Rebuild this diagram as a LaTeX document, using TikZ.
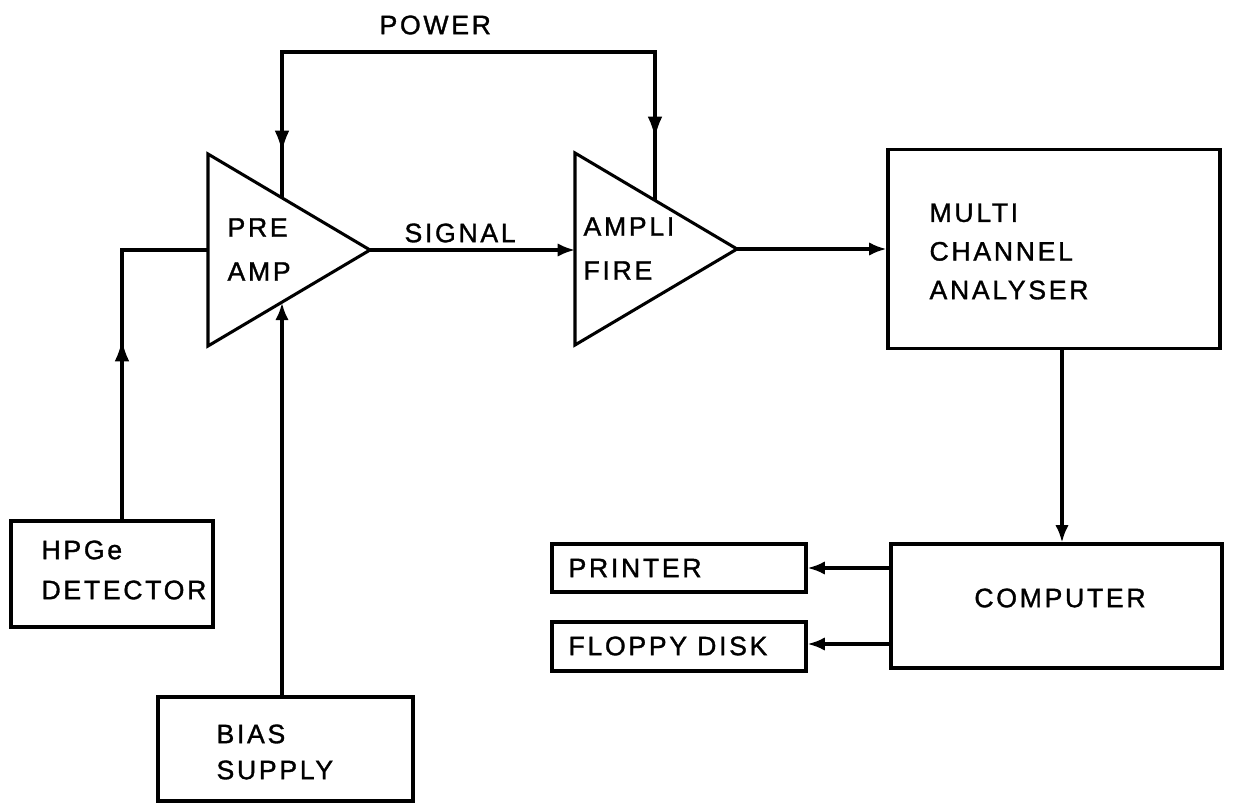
\documentclass[tikz,border=0pt]{standalone}
\usepackage{fontspec}
\newfontfamily\lbl{Liberation Sans}[LetterSpace=10,FakeBold=1.2]
\usetikzlibrary{arrows.meta}
\begin{document}
\begin{tikzpicture}[x=0.75pt,y=-0.75pt,
  line width=2.3pt, line join=miter,
  arr/.style={-{Latex[length=13pt,width=10pt]}},
  marr/.style={-{Latex[length=16pt,width=11pt]}},
  box/.style={draw, rectangle, inner sep=0pt},
  txt/.style={inner sep=0pt, anchor=west, align=left,
    font=\lbl\fontsize{20pt}{29pt}\selectfont},
  tri/.style={txt, font=\lbl\fontsize{20pt}{33pt}\selectfont}]
\useasboundingbox (0,0) rectangle (1233,803);

% amplifier triangles
\coordinate (paA) at (208,154);
\coordinate (paB) at (208,346);
\coordinate (paApex) at (370,250);
\draw (paA) -- (paApex) -- (paB) -- cycle;
\coordinate (amA) at (575,153);
\coordinate (amB) at (575,345);
\coordinate (amApex) at (737,249);
\draw (amA) -- (amApex) -- (amB) -- cycle;
\node[tri] (paText) at (226,249.5) {PRE\\AMP};
\node[tri] (amText) at (582,248.5) {AMPLI\\FIRE};

% boxes
\node[box, minimum width=249pt, minimum height=149.25pt] (mca) at (1054,249) {};
\node[box, minimum width=248.25pt, minimum height=93pt] (comp) at (1056.5,606) {};
\node[box, minimum width=190.5pt, minimum height=36pt] (printer) at (679,568) {};
\node[box, minimum width=190.5pt, minimum height=36.75pt] (floppy) at (679,646.5) {};
\node[box, minimum width=151.5pt, minimum height=79.5pt] (det) at (112,574) {};
\node[box, minimum width=191.25pt, minimum height=78pt] (bias) at (285.5,749) {};

% box labels
\node[txt] (mcaText) at (928,251.5) {MULTI\\CHANNEL\\ANALYSER};
\node[txt, anchor=center] (compText) at (1060,598) {COMPUTER};
\node[txt] (prText) at (567,568) {PRINTER};
\node[txt] (flText) at (567,646) {FLOPPY DISK};
\node[txt, font=\lbl\fontsize{20pt}{30pt}\selectfont] (detText) at (40,570) {HPGe\\DETECTOR};
\node[txt, font=\lbl\fontsize{20pt}{27pt}\selectfont] (biasText) at (215,752) {BIAS\\SUPPLY};
\node[txt] (sigText) at (403,233) {SIGNAL};
\node[txt] (powText) at (378,25) {POWER};

% power lines
\coordinate (pwL) at (282,52);
\coordinate (pwR) at (655,52);
\coordinate (paTop) at (282,198.4);
\coordinate (amTop) at (655,200);
\coordinate (pwLtip) at (282,152);
\coordinate (pwRtip) at (655,138);
\draw (paTop) -- (pwL) -- (pwR) -- (amTop);
\draw[marr] (pwL) -- (pwLtip);
\draw[marr] (pwR) -- (pwRtip);

% detector line
\coordinate (dCorner) at (122,250);
\coordinate (paIn) at (208,250);
\coordinate (dTip) at (122,340);
\draw (det.north -| dCorner) -- (dCorner) -- (paIn);
\draw[marr] (det.north -| dCorner) -- (dTip);

% bias line
\coordinate (paBot) at (282,302.7);
\draw[arr] (bias.north -| paBot) -- (paBot);

% signal
\coordinate (amIn) at (575,250);
\draw[arr] (paApex) -- (amIn);

% to MCA
\draw[arr] (amApex) -- (mca.west);

% MCA to computer
\coordinate (mcx) at (1062,450);
\draw[arr] (mca.south -| mcx) -- (comp.north -| mcx);

% computer to printer / floppy
\draw[arr] (comp.west |- printer.east) -- (printer.east);
\coordinate (flRow) at (800,644);
\draw[arr] (comp.west |- flRow) -- (floppy.east |- flRow);
\end{tikzpicture}
\end{document}
